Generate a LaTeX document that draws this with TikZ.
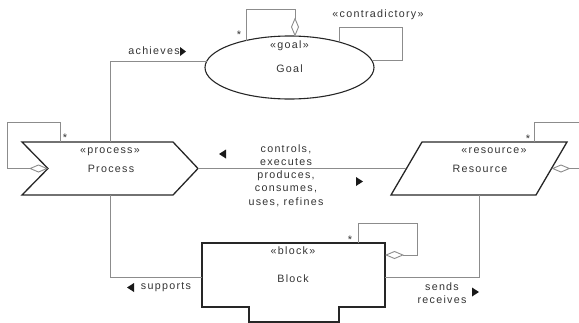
\documentclass[tikz,border=0pt]{standalone}
\usepackage{fontspec}
\setmainfont[LetterSpace=12]{Liberation Sans}
\usetikzlibrary{arrows.meta,shapes.geometric,calc}
\begin{document}
\begin{tikzpicture}[x=1pt,y=-1pt,
  shapeline/.style={draw=black!85,line width=1.3pt,line join=miter},
  conn/.style={draw=black!45,line width=0.9pt},
  lbl/.style={font=\fontsize{10.7}{13.3}\selectfont,text=black!80,inner sep=0pt},
  starl/.style={font=\fontsize{11}{11}\selectfont,text=black!80,inner sep=0pt},
  agg/.style={-{Diamond[open,length=19pt,width=8pt,line width=0.9pt]}},
  tri/.style={fill=black!90}]
\useasboundingbox (0,0) rectangle (579,322);
\clip (0,0) rectangle (579,322);

% ---- shapes (named nodes as frames)
\node[ellipse,draw=black!85,line width=1.1pt,minimum width=169pt,minimum height=63pt,inner sep=0pt] (goal) at (289.5,67.5) {};
\node[minimum width=176pt,minimum height=53pt,inner sep=0pt] (proc) at (110,168.5) {};
\node[minimum width=176pt,minimum height=53pt,inner sep=0pt] (res) at (479.5,168.5) {};
\node[minimum width=183pt,minimum height=64pt,inner sep=0pt] (blk) at (293.5,275) {};

\draw[shapeline] (22,142) -- (173,142) -- (198,168.5) -- (173,195) -- (22,195) -- (48,168.5) -- cycle;
\draw[shapeline] (422,142) -- (567,142) -- (536,195) -- (391,195) -- cycle;
\draw[shapeline] (202,243) -- (385,243) -- (385,307) -- (339,307) -- (339,322) -- (249,322) -- (249,307) -- (202,307) -- cycle;

% ---- texts in shapes
\node[lbl] (goalst) at (289.5,46) {«goal»};
\node[lbl] (goaln) at (289.5,69) {Goal};
\node[lbl] (procst) at (110,152) {«process»};
\node[lbl] (procn) at (111,168.5) {Process};
\node[lbl] (resst) at (494,151) {«resource»};
\node[lbl] (resn) at (480,169) {Resource};
\node[lbl] (blkst) at (293,251) {«block»};
\node[lbl] (blkn) at (293,279) {Block};

% ---- connector end points
\coordinate (aG) at (206.8,61);
\coordinate (resL) at (406,168.5);
\coordinate (blkW) at (202,277);
\coordinate (blkE) at (385,277);

% ---- connectors
\draw[conn] (proc.north) |- (aG);
\draw[conn] (proc.east) -- (resL);
\draw[conn] (proc.south) |- (blkW);
\draw[conn] (blkE) -| (res.south);

% ---- self loops
\draw[conn,agg] (246,40.5) -- (246,9) -- (295,9) -- (295,36.5);
\draw[conn] (339,42) -- (339,27) -- (402,27) -- (402,60) -- (371.6,60);
\draw[conn,agg] (60,142) -- (60,122) -- (7,122) -- (7,168.5) -- (48,168.5);
\draw[conn,agg] (534,142) -- (534,122) -- (600,122) -- (600,168.5) -- (551.5,168.5);
\draw[conn,agg] (358,243) -- (358,223) -- (417,223) -- (417,255) -- (385,255);

% ---- multiplicities
\node[starl] (s1) at (239,35) {*};
\node[starl] (s2) at (65,138) {*};
\node[starl] (s3) at (528,139) {*};
\node[starl] (s4) at (350,240) {*};

% ---- labels
\node[lbl] (contr) at (378,15) {«contradictory»};
\node[lbl] (ach) at (154,51) {achieves};
\node[lbl,align=center] (ctl) at (286,175.5) {controls,\\executes\\produces,\\consumes,\\uses, refines};
\node[lbl] (sup) at (166,287) {supports};
\node[lbl,align=center] (snd) at (442,293) {sends\\receives};

% ---- direction triangles
\fill[tri] (186,51.5) -- (180,47) -- (180,56) -- cycle;
\fill[tri] (219,154) -- (226,149.5) -- (226,158.5) -- cycle;
\fill[tri] (363,181.5) -- (356,177) -- (356,186) -- cycle;
\fill[tri] (127,287.5) -- (134,283) -- (134,292) -- cycle;
\fill[tri] (479,292) -- (472,287.5) -- (472,296.5) -- cycle;
\end{tikzpicture}
\end{document}
